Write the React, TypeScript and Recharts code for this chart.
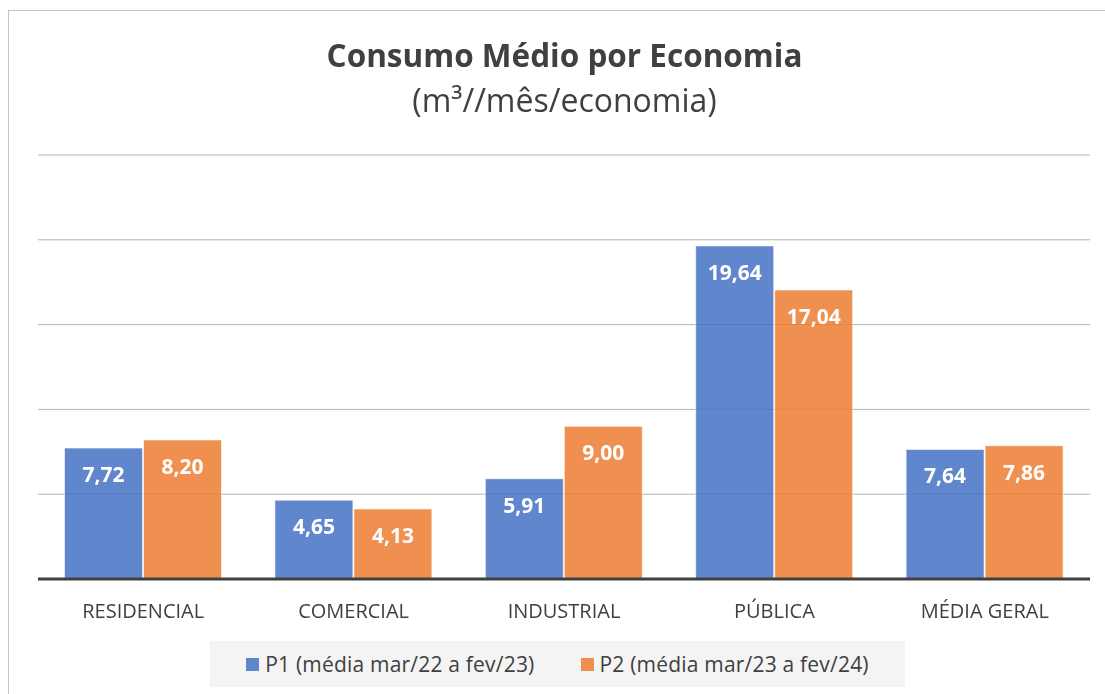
import { BarChart, Bar, XAxis, YAxis, CartesianGrid, LabelList } from "recharts";

const categories = ["RESIDENCIAL", "COMERCIAL", "INDUSTRIAL", "PÚBLICA", "MÉDIA GERAL"];
const p1Values = [7.72, 4.65, 5.91, 19.64, 7.64];
const p2Values = [8.2, 4.13, 9.0, 17.04, 7.86];
const yTicks = [0, 5, 10, 15, 20, 25];

const p1Name = "P1 (média mar/22 a fev/23)";
const p2Name = "P2 (média mar/23 a fev/24)";

const data = categories.map((name, i) => ({ name, p1: p1Values[i], p2: p2Values[i] }));

const FONT = "'Open Sans', sans-serif";
const BLUE = "#4472C4";
const ORANGE = "#ED7D31";

const fmt = (v: number) => v.toFixed(2).replace(".", ",");

export default function App() {
  return (
    <div
      style={{
        position: "fixed",
        left: 8,
        top: 8,
        width: 1097,
        height: 686,
        overflow: "hidden",
        fontFamily: FONT,
      }}
    >
      <div
        style={{
          position: "absolute",
          left: 0,
          top: 2,
          width: 1200,
          height: 800,
          borderLeft: "1px solid #c4c4c4",
          borderTop: "1px solid #c4c4c4",
          boxSizing: "border-box",
        }}
      />
      <div
        style={{
          position: "absolute",
          left: 0,
          width: 1113,
          top: 24,
          textAlign: "center",
          color: "#404040",
          lineHeight: "45px",
        }}
      >
        <div style={{ fontSize: 31.5, fontWeight: 700 }}>Consumo Médio por Economia</div>
        <div style={{ fontSize: 32 }}>(m³//mês/economia)</div>
      </div>
      <BarChart
        width={1097}
        height={686}
        data={data}
        margin={{ top: 147, right: 15, bottom: 75, left: 30 }}
        barCategoryGap="12.6%"
        barGap={1}
        style={{ position: "absolute", left: 0, top: 0 }}
      >
        <CartesianGrid vertical={false} stroke="#b4b4b4" strokeWidth={1} />
        <YAxis hide domain={[0, 25]} ticks={yTicks} />
        <XAxis
          dataKey="name"
          axisLine={{ stroke: "#404040", strokeWidth: 3 }}
          tickLine={false}
          tick={{ fill: "#404040", fontSize: 20, fontFamily: FONT }}
          tickMargin={19}
          height={40}
        />
        <Bar
          dataKey="p1"
          name={p1Name}
          fill={BLUE}
          fillOpacity={0.85}
          stroke="#ffffff"
          strokeOpacity={0.6}
          isAnimationActive={false}
        >
          <LabelList
            dataKey="p1"
            position="insideTop"
            offset={19}
            formatter={(v: number) => fmt(v)}
            style={{ fill: "#ffffff", fontSize: 21, fontWeight: 700, fontFamily: FONT }}
          />
        </Bar>
        <Bar
          dataKey="p2"
          name={p2Name}
          fill={ORANGE}
          fillOpacity={0.85}
          stroke="#ffffff"
          strokeOpacity={0.6}
          isAnimationActive={false}
        >
          <LabelList
            dataKey="p2"
            position="insideTop"
            offset={19}
            formatter={(v: number) => fmt(v)}
            style={{ fill: "#ffffff", fontSize: 21, fontWeight: 700, fontFamily: FONT }}
          />
        </Bar>
      </BarChart>
      <div
        style={{
          position: "absolute",
          left: 202,
          top: 633,
          width: 695,
          height: 46,
          background: "#f4f4f4",
          display: "flex",
          alignItems: "center",
          justifyContent: "center",
          gap: 46,
          color: "#404040",
          fontSize: 21,
          letterSpacing: 0.2,
        }}
      >
        {[
          { name: p1Name, color: BLUE },
          { name: p2Name, color: ORANGE },
        ].map((item) => (
          <div key={item.name} style={{ display: "flex", alignItems: "center", gap: 6 }}>
            <span
              style={{
                display: "inline-block",
                width: 13,
                height: 13,
                background: item.color,
                opacity: 0.85,
              }}
            />
            <span>{item.name}</span>
          </div>
        ))}
      </div>
    </div>
  );
}
